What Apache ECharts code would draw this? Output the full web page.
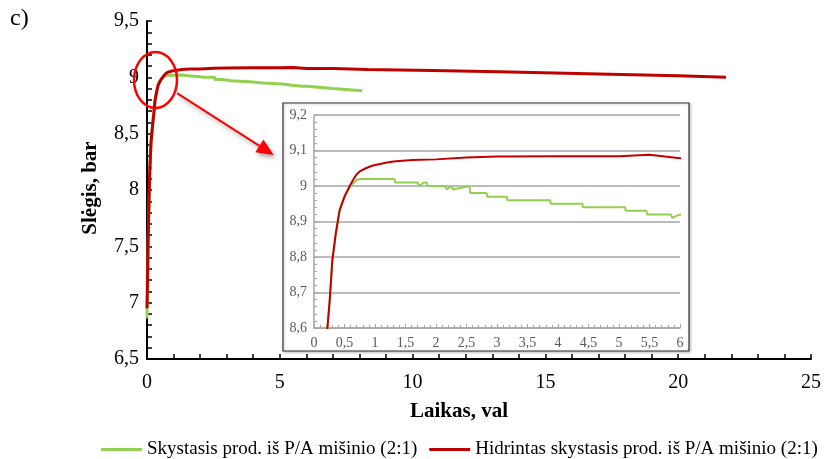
<!DOCTYPE html>
<html>
<head>
<meta charset="utf-8">
<script src="https://cdn.jsdelivr.net/npm/echarts@6/dist/echarts.min.js"></script>
<style>
  html, body { margin: 0; padding: 0; background: #fff; }
  #chart { width: 824px; height: 459px; }
</style>
</head>
<body>
<div id="chart"></div>
<script>
// Pressure over time for the two liquid products
const seriesNames = [
  'Skystasis prod. iš P/A mišinio (2:1)',
  'Hidrintas skystasis prod. iš P/A mišinio (2:1)'
];

const greenTime = [0, 0.05, 0.1, 0.15, 0.22, 0.26, 0.30, 0.36, 0.42, 0.50, 0.56, 0.63, 0.70, 0.75,
  1.32, 1.33, 1.70, 1.72, 1.80, 1.85, 1.86, 2.15, 2.18, 2.25, 2.28, 2.55, 2.56, 2.83, 2.84, 3.16, 3.17,
  3.87, 3.88, 4.40, 4.41, 5.10, 5.11, 5.45, 5.46, 5.85, 5.87, 6.0, 7.0, 8.1];
const greenPressure = [6.86, 7.6, 8.1, 8.4, 8.6, 8.68, 8.79, 8.866, 8.93, 8.97, 8.99, 9.005, 9.017, 9.02,
  9.02, 9.01, 9.01, 9.0, 9.01, 9.01, 9.0, 9.0, 8.99, 9.0, 8.99, 9.0, 8.98, 8.98, 8.97, 8.97, 8.96,
  8.96, 8.95, 8.95, 8.94, 8.94, 8.93, 8.93, 8.92, 8.92, 8.91, 8.92, 8.90, 8.88];

const redTime = [0, 0.05, 0.1, 0.15, 0.22, 0.257, 0.30, 0.356, 0.42, 0.50, 0.585, 0.65, 0.70, 0.75, 0.85,
  0.95, 1.08, 1.20, 1.30, 1.45, 1.62, 2.0, 2.5, 3.0, 4.0, 5.0, 5.5, 6.0, 7.0, 8.3, 10.75, 13.25, 17.0, 20.0, 21.8];
const redPressure = [6.95, 7.65, 8.15, 8.42, 8.6, 8.678, 8.79, 8.866, 8.932, 8.97, 9.0, 9.02, 9.033, 9.041, 9.05,
  9.057, 9.062, 9.066, 9.069, 9.071, 9.073, 9.075, 9.08, 9.083, 9.084, 9.084, 9.088, 9.078, 9.078, 9.07, 9.06, 9.05, 9.03, 9.013, 9.0];

const mainXTicks = { min: 0, max: 25, interval: 5 };
const mainYTicks = { min: 6.5, max: 9.5, interval: 0.5 };
const insetXTicks = { min: 0, max: 6, interval: 0.5 };
const insetYTicks = { min: 8.6, max: 9.2, interval: 0.1 };

const pairs = (t, p) => t.map((v, i) => [v, p[i]]);
const greenData = pairs(greenTime, greenPressure);
const redData = pairs(redTime, redPressure);

const comma = v => String(+(+v).toFixed(2)).replace('.', ',');
const serif = '"Liberation Serif", "Times New Roman", serif';
const GREEN = '#92d050';
const RED = '#c00000';
const GRIDGRAY = '#a6a6a6';
const LABELGRAY = '#595959';

const chart = echarts.init(document.getElementById('chart'), null, { renderer: 'canvas' });

const mainGrid = { left: 147, top: 21, width: 666, height: 338 };
const insetGrid = { left: 314, top: 115, width: 366, height: 213 };

chart.setOption({
  animation: false,
  backgroundColor: '#fff',
  textStyle: { fontFamily: serif },
  grid: [
    Object.assign({ containLabel: false }, mainGrid),
    Object.assign({ containLabel: false, z: 5 }, insetGrid)
  ],
  legend: {
    left: 101, top: 440, width: 723, padding: 0,
    itemWidth: 41, itemHeight: 3, itemGap: 12,
    icon: 'rect',
    data: seriesNames,
    textStyle: { fontFamily: serif, fontSize: 19, color: '#000' }
  },
  xAxis: [
    {
      gridIndex: 0, type: 'value',
      min: mainXTicks.min, max: mainXTicks.max, interval: mainXTicks.interval,
      axisLine: { lineStyle: { color: '#000', width: 2 } },
      axisTick: { inside: true, length: 5, lineStyle: { color: '#000', width: 1.5 } },
      minorTick: { show: true, splitNumber: 5, length: 5, lineStyle: { color: '#000', width: 1.5 } },
      splitLine: { show: false },
      axisLabel: { fontFamily: serif, fontSize: 20, color: '#000', margin: 14, formatter: comma }
    },
    {
      gridIndex: 1, type: 'value', z: 5,
      min: insetXTicks.min, max: insetXTicks.max, interval: insetXTicks.interval,
      axisLine: { lineStyle: { color: GRIDGRAY, width: 1.5 } },
      axisTick: { inside: true, length: 4, lineStyle: { color: GRIDGRAY } },
      minorTick: { show: true, splitNumber: 5, length: 3, lineStyle: { color: GRIDGRAY } },
      splitLine: { show: false },
      axisLabel: { fontFamily: serif, fontSize: 14, color: LABELGRAY, margin: 8, formatter: comma }
    }
  ],
  yAxis: [
    {
      gridIndex: 0, type: 'value',
      min: mainYTicks.min, max: mainYTicks.max, interval: mainYTicks.interval,
      axisLine: { lineStyle: { color: '#000', width: 2 } },
      axisTick: { inside: true, length: 5, lineStyle: { color: '#000', width: 1.5 } },
      minorTick: { show: true, splitNumber: 5, length: 5, lineStyle: { color: '#000', width: 1.5 } },
      splitLine: { show: false },
      axisLabel: { fontFamily: serif, fontSize: 20, color: '#000', margin: 8, formatter: comma }
    },
    {
      gridIndex: 1, type: 'value', z: 5,
      min: insetYTicks.min, max: insetYTicks.max, interval: insetYTicks.interval,
      axisLine: { show: true, lineStyle: { color: GRIDGRAY, width: 1.5 } },
      axisTick: { show: true, inside: true, length: 4, lineStyle: { color: GRIDGRAY } },
      minorTick: { show: true, splitNumber: 5, length: 3, lineStyle: { color: GRIDGRAY } },
      splitLine: { show: true, lineStyle: { color: GRIDGRAY, width: 1.5 } },
      axisLabel: { fontFamily: serif, fontSize: 14, color: LABELGRAY, margin: 7, formatter: comma }
    }
  ],
  series: [
    {
      name: seriesNames[0], type: 'line', xAxisIndex: 0, yAxisIndex: 0,
      data: greenData, showSymbol: false, color: GREEN,
      lineStyle: { color: GREEN, width: 3 }, z: 2
    },
    {
      name: seriesNames[1], type: 'line', xAxisIndex: 0, yAxisIndex: 0,
      data: redData, showSymbol: false, color: RED,
      lineStyle: { color: RED, width: 3 }, z: 3
    },
    {
      name: seriesNames[0], type: 'line', xAxisIndex: 1, yAxisIndex: 1,
      data: greenData, showSymbol: false, color: GREEN, clip: true,
      lineStyle: { color: GREEN, width: 2 }, z: 6
    },
    {
      name: seriesNames[1], type: 'line', xAxisIndex: 1, yAxisIndex: 1,
      data: redData, showSymbol: false, color: RED, clip: true,
      lineStyle: { color: RED, width: 2 }, z: 7
    }
  ]
});

// Annotation: ellipse around the start-up region, arrow pointing to the zoomed panel
const px = p => chart.convertToPixel({ gridIndex: 0 }, p);
const ellipseCenter = px([0.32, 8.976]);
const arrowStart = px([1.13, 8.86]);
const arrowTip = px([4.77, 8.31]);
const dx = arrowTip[0] - arrowStart[0], dy = arrowTip[1] - arrowStart[1];
const len = Math.hypot(dx, dy);
const ux = dx / len, uy = dy / len;
const headLen = 17, headHalf = 7.5;
const base = [arrowTip[0] - ux * headLen, arrowTip[1] - uy * headLen];
const shadow = { shadowBlur: 4, shadowOffsetX: 2, shadowOffsetY: 3, shadowColor: 'rgba(0,0,0,0.35)' };

chart.setOption({
  graphic: [
    {
      type: 'rect', z: 4, silent: true,
      shape: { x: insetGrid.left - 31, y: insetGrid.top - 12, width: 406, height: 248 },
      style: { fill: '#fff', stroke: '#333', lineWidth: 1.2, shadowBlur: 3, shadowOffsetX: 1, shadowOffsetY: 1, shadowColor: 'rgba(0,0,0,0.25)' }
    },
    {
      type: 'ellipse', z: 20, silent: true,
      shape: { cx: ellipseCenter[0], cy: ellipseCenter[1], rx: 21.5, ry: 28 },
      style: { fill: null, stroke: '#ff0000', lineWidth: 2.5 }
    },
    {
      type: 'line', z: 20, silent: true,
      shape: { x1: arrowStart[0], y1: arrowStart[1], x2: base[0], y2: base[1] },
      style: Object.assign({ stroke: '#ff0000', lineWidth: 2 }, shadow)
    },
    {
      type: 'polygon', z: 20, silent: true,
      shape: { points: [
        arrowTip,
        [base[0] - uy * headHalf, base[1] + ux * headHalf],
        [base[0] + uy * headHalf, base[1] - ux * headHalf]
      ] },
      style: Object.assign({ fill: '#ff0000' }, shadow)
    },
    {
      type: 'text', z: 20, silent: true, left: 10, top: 7,
      style: { text: 'c)', font: '24px ' + serif, fill: '#000' }
    },
    {
      type: 'text', z: 20, silent: true,
      x: 91, y: 188, rotation: Math.PI / 2,
      style: { text: 'Slėgis, bar', font: 'bold 21px ' + serif, fill: '#000', align: 'center', verticalAlign: 'middle' }
    },
    {
      type: 'text', z: 20, silent: true,
      x: 459, y: 412,
      style: { text: 'Laikas, val', font: 'bold 21px ' + serif, fill: '#000', align: 'center', verticalAlign: 'middle' }
    }
  ]
});
</script>
</body>
</html>
